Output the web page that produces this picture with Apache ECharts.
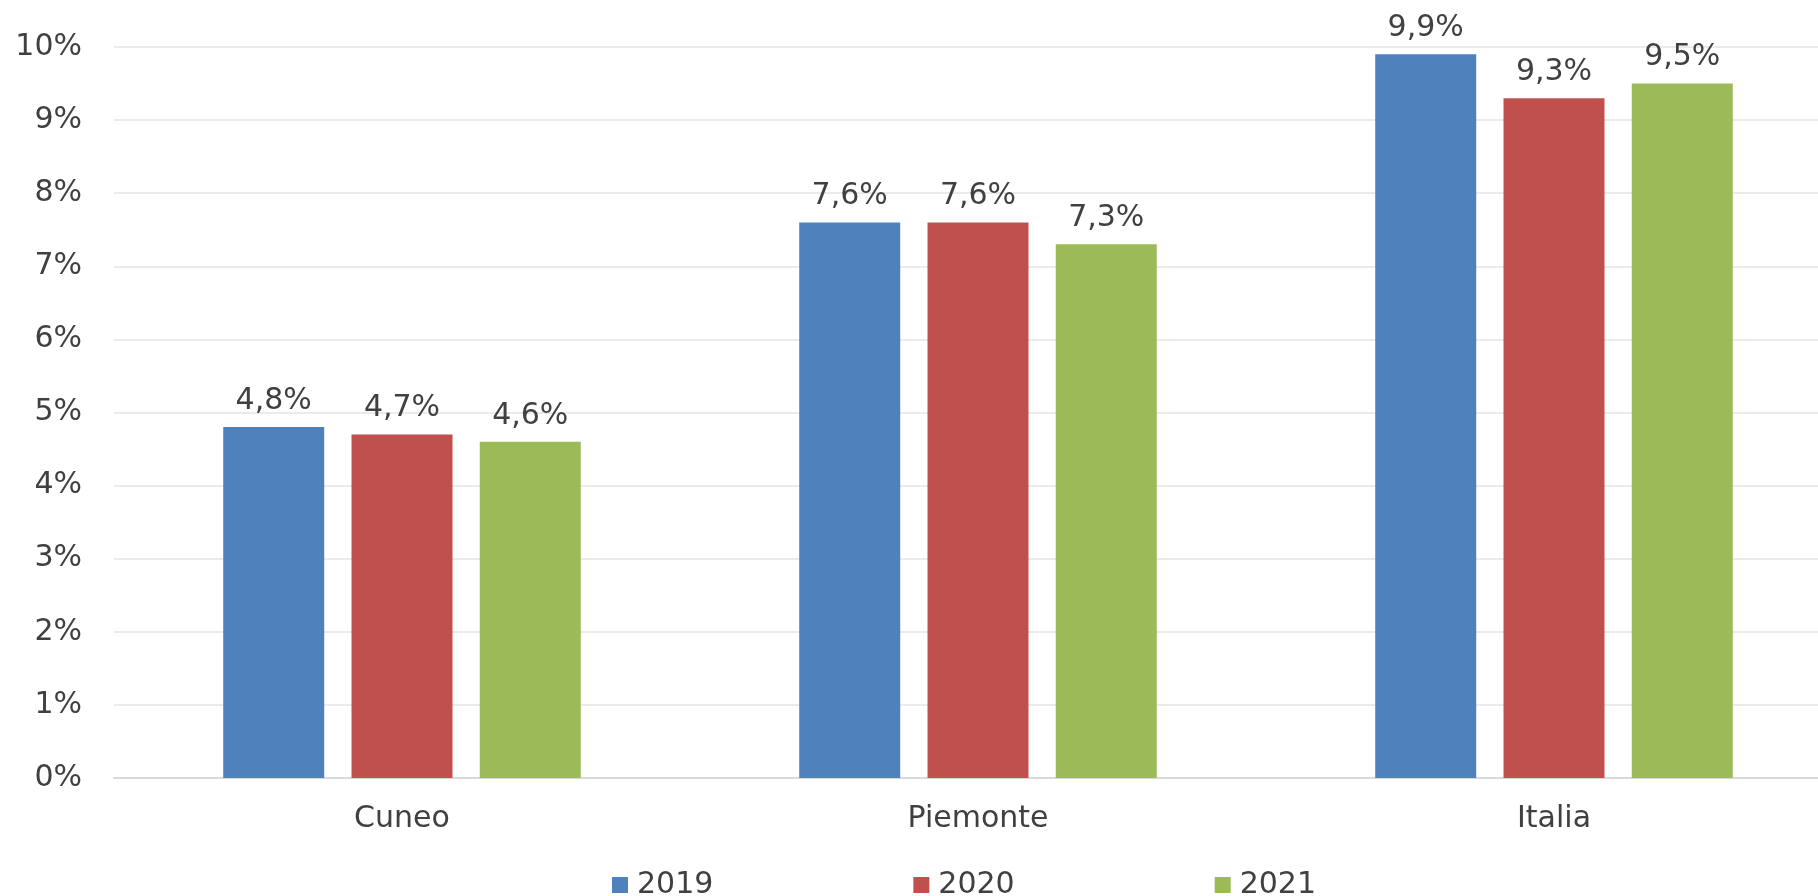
<!DOCTYPE html>
<html>
<head>
<meta charset="utf-8">
<script src="https://cdn.jsdelivr.net/npm/echarts@6/dist/echarts.min.js"></script>
<style>
  html, body { margin: 0; padding: 0; background: #fff; }
  #chart { width: 1818px; height: 896px; }
</style>
</head>
<body>
<div id="chart"></div>
<script>
  // data
  const categories = ['Cuneo', 'Piemonte', 'Italia']
  const years = ['2019', '2020', '2021']
  const values2019 = [4.8, 7.6, 9.9]
  const values2020 = [4.7, 7.6, 9.3]
  const values2021 = [4.6, 7.3, 9.5]
  const colors = ['#4F81BD', '#C0504D', '#9BBB59']

  const FONT = 'DejaVu Sans'
  const TEXT = '#404040'
  const FS = 30

  const fmt = v => String(v).replace('.', ',') + '%'

  function makeSeries(name, data, color) {
    return {
      name: name,
      type: 'bar',
      barWidth: 101,
      barGap: '27%',
      itemStyle: { color: color },
      label: {
        show: true,
        position: 'top',
        distance: 11,
        color: TEXT,
        fontFamily: FONT,
        fontSize: FS,
        formatter: p => fmt(p.value)
      },
      data: data
    }
  }

  let myChart = echarts.init(document.getElementById('chart'))
  myChart.setOption({
    animation: false,
    color: colors,
    grid: {
      left: 114,
      width: 1728, // plot runs past the right edge in the reference
      top: 47,
      bottom: 118,
      outerBoundsMode: 'none'
    },
    legend: {
      left: 607,
      top: 865,
      itemWidth: 16,
      itemHeight: 16,
      itemGap: 200,
      icon: 'rect',
      textStyle: { color: TEXT, fontFamily: FONT, fontSize: FS, padding: [0, 0, 0, 4] },
      data: years
    },
    xAxis: {
      type: 'category',
      data: categories,
      axisTick: { show: false },
      axisLine: { lineStyle: { color: '#D9D9D9', width: 2 } },
      axisLabel: { color: TEXT, fontFamily: FONT, fontSize: FS, margin: 26 }
    },
    yAxis: {
      type: 'value',
      min: 0,
      max: 10,
      interval: 1,
      axisLine: { show: false },
      axisTick: { show: false },
      splitLine: { lineStyle: { color: '#EBEBEB', width: 2 } },
      axisLabel: {
        color: TEXT,
        fontFamily: FONT,
        fontSize: FS,
        margin: 32,
        formatter: v => v + '%'
      }
    },
    series: [
      makeSeries(years[0], values2019, colors[0]),
      makeSeries(years[1], values2020, colors[1]),
      makeSeries(years[2], values2021, colors[2])
    ]
  })
</script>
</body>
</html>
